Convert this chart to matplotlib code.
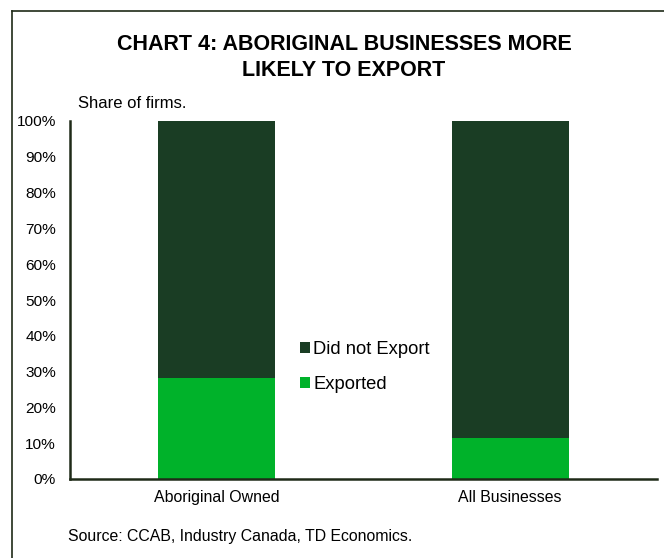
import matplotlib
matplotlib.use("Agg")
from matplotlib import pyplot as plt
from matplotlib.lines import Line2D

plt.rcParams["font.family"] = ["Liberation Sans", "DejaVu Sans"]

categories = ["Aboriginal Owned", "All Businesses"]
exported = [28.2, 11.5]
did_not_export = [100 - v for v in exported]
yticks = list(range(0, 101, 10))

dark_green = "#1a3d24"
light_green = "#00b22a"
spine_color = "#1f2a18"

fig = plt.figure(figsize=(6.64, 5.58), dpi=100)
ax = fig.add_axes([70 / 664, 1 - 479 / 558, 587 / 664, 358 / 558])

x = range(len(categories))
ax.bar(x, exported, width=0.4, color=light_green, label="Exported")
ax.bar(x, did_not_export, width=0.4, bottom=exported, color=dark_green,
       label="Did not Export")

ax.set_xlim(-0.5, 1.5)
ax.set_ylim(0, 100)
ax.set_xticks(list(x))
ax.set_xticklabels(categories, fontsize=11.4)
ax.set_yticks(yticks)
ax.set_yticklabels([f"{t}%" for t in yticks], fontsize=11.1)
ax.tick_params(axis="y", length=0, pad=10)
ax.tick_params(axis="x", length=0, pad=8)
for side in ["top", "right"]:
    ax.spines[side].set_visible(False)
for side in ["left", "bottom"]:
    ax.spines[side].set_color(spine_color)
    ax.spines[side].set_linewidth(1.8)

handles, labels = ax.get_legend_handles_labels()
ax.legend(handles[::-1], labels[::-1], loc="center left",
          bbox_to_anchor=(213 / 587, 0.313), frameon=False, fontsize=13.2,
          handlelength=0.55, handleheight=0.55, handletextpad=0.2,
          labelspacing=1.0)

fig.text(344 / 664, 1 - 45 / 558, "CHART 4: ABORIGINAL BUSINESSES MORE",
         ha="center", va="center", fontsize=15.5, fontweight="bold")
fig.text(344 / 664, 1 - 71 / 558, "LIKELY TO EXPORT",
         ha="center", va="center", fontsize=15.5, fontweight="bold")
fig.text(78 / 664, 1 - 103 / 558, "Share of firms.", ha="left", va="center",
         fontsize=12)
fig.text(68 / 664, 1 - 537 / 558, "Source: CCAB, Industry Canada, TD Economics.",
         ha="left", va="center", fontsize=11.4)

# outer frame, top and left edges only
fig.add_artist(Line2D([12 / 664, 12 / 664], [0, 1 - 11 / 558],
                      transform=fig.transFigure, color=spine_color, lw=1.2))
fig.add_artist(Line2D([12 / 664, 1], [1 - 11 / 558, 1 - 11 / 558],
                      transform=fig.transFigure, color=spine_color, lw=1.2))

plt.savefig("out.png", dpi=100)
plt.close()
